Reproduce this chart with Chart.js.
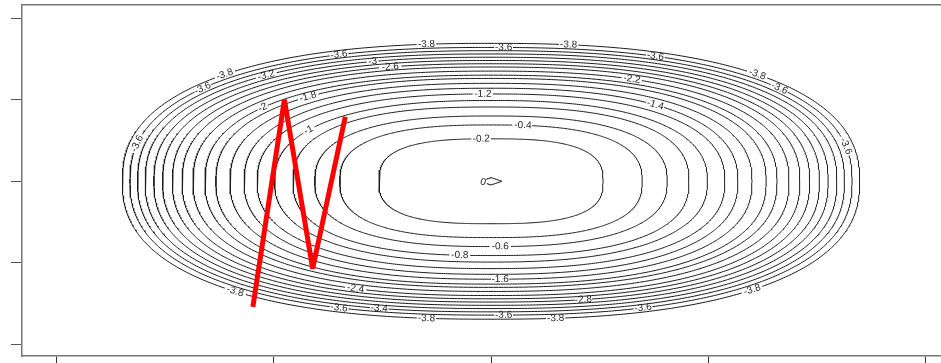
<!DOCTYPE html>
<html lang="en">
  <head>
    <meta charset="UTF-8" />
    <script src="https://cdn.jsdelivr.net/npm/chart.js"></script>
    <title>Contour</title>
    <style>
      html, body { margin: 0; padding: 0; background: #fff; }
    </style>
  </head>
  <body>
    <canvas id="myChart" width="941" height="363"></canvas>
    <script>
      // contour levels and half-axes of each ring (data units)
      var levels     = [0, -0.2, -0.4, -0.6, -0.8, -1, -1.2, -1.4, -1.6, -1.8, -2, -2.2, -2.4, -2.6, -2.8, -3, -3.2, -3.4, -3.6, -3.8];
      var halfWidth  = [0.10, 1.03, 1.39, 1.62, 1.82, 1.99, 2.15, 2.27, 2.40, 2.53, 2.63, 2.74, 2.84, 2.93, 3.02, 3.10, 3.18, 3.25, 3.32, 3.39];
      var halfHeight = [0.045, 0.52, 0.69, 0.80, 0.91, 0.99, 1.07, 1.14, 1.20, 1.26, 1.30, 1.35, 1.40, 1.44, 1.48, 1.52, 1.56, 1.60, 1.64, 1.69];
      var roundness  = [1, 2.8, 2.6, 2.5, 2.5, 2.4, 2.4, 2.4, 2.4, 2.4, 2.4, 2.4, 2.4, 2.4, 2.4, 2.4, 2.4, 2.4, 2.4, 2.4];

      // inline labels: which level, and direction (degrees) from the centre
      var labelLevel = [-3.8, -3.6, -3.8, -3.6, -3, -2.6, -1.2, -0.4, -0.2, -2.2, -3.6, -1.4, -3.8, -3.6, -3.6,
                        -3.8, -3.6, -3.2, -2, -1.8, -1, -3.6,
                        -3.8, -3.6, -3.4, -2.4, -3.8, -3.6, -3.8, -2.8, -1.6, -0.8, -0.6, -3.6, -3.8, 0];
      var labelDir   = [100, 88, 78, 114, 110, 108, 92, 78, 95, 63, 64, 51, 47, 41, 15,
                        133, 139, 128, 139, 129, 143, 164,
                        229, 246, 252, 245, 260, 272, 280, 286, 272, 261, 273, 294, 312, 200];

      // red path
      var pathX = [-2.19, -1.90, -1.64, -1.34];
      var pathY = [-1.54, 1.00, -1.07, 0.79];

      var xTicks = [-4, -2, 0, 2, 4];
      var yTicks = [-2, -1, 0, 1, 2];

      var LABEL_FONT = '10px "Liberation Sans", Arial, sans-serif';

      function contourPoint(i, deg) {
        var t = deg * Math.PI / 180;
        var c = Math.cos(t), s = Math.sin(t), p = roundness[i];
        var r = Math.pow(Math.pow(Math.abs(c), p) + Math.pow(Math.abs(s), p), -1 / p);
        return { x: halfWidth[i] * r * c, y: halfHeight[i] * r * s };
      }

      var measureCtx = document.createElement("canvas").getContext("2d");
      measureCtx.font = LABEL_FONT;
      var labels = labelLevel.map(function (lv, k) {
        var txt = String(lv);
        return { idx: levels.indexOf(lv), dir: labelDir[k], text: txt, w: measureCtx.measureText(txt).width };
      });

      function labelPixel(chart, lb) {
        var sx = chart.scales.x, sy = chart.scales.y;
        var p = contourPoint(lb.idx, lb.dir);
        var a = contourPoint(lb.idx, lb.dir - 1);
        var b = contourPoint(lb.idx, lb.dir + 1);
        var ang = Math.atan2(sy.getPixelForValue(b.y) - sy.getPixelForValue(a.y),
                             sx.getPixelForValue(b.x) - sx.getPixelForValue(a.x));
        if (ang > Math.PI / 2) ang -= Math.PI;
        if (ang < -Math.PI / 2) ang += Math.PI;
        return { x: sx.getPixelForValue(p.x), y: sy.getPixelForValue(p.y), angle: ang };
      }

      function gapColor(ctx) {
        var ds = ctx.chart.data.datasets[ctx.datasetIndex];
        var mx = (ctx.p0.x + ctx.p1.x) / 2, my = (ctx.p0.y + ctx.p1.y) / 2;
        for (var k = 0; k < labels.length; k++) {
          if (labels[k].idx !== ds.levelIndex) continue;
          var lp = labelPixel(ctx.chart, labels[k]);
          var dx = mx - lp.x, dy = my - lp.y;
          if (Math.sqrt(dx * dx + dy * dy) < labels[k].w / 2 + 1.5) return "rgba(0,0,0,0)";
        }
        return undefined;
      }

      var datasets = [];
      datasets.push({
        data: pathX.map(function (v, i) { return { x: v, y: pathY[i] }; }),
        showLine: true,
        borderColor: "#ff0000",
        borderWidth: 5,
        borderJoinStyle: "bevel",
        borderCapStyle: "butt",
        pointRadius: 0,
        order: 0
      });
      for (var i = 0; i < levels.length; i++) {
        var pts = [];
        for (var d = 0; d <= 720; d++) pts.push(contourPoint(i, d / 2));
        datasets.push({
          data: pts,
          levelIndex: i,
          showLine: true,
          borderColor: "#1a1a1a",
          borderWidth: 1,
          pointRadius: 0,
          order: 1,
          segment: { borderColor: gapColor }
        });
      }

      var labelPlugin = {
        id: "contourLabels",
        afterDatasetsDraw: function (chart) {
          var c = chart.ctx, area = chart.chartArea;
          c.save();
          c.beginPath();
          c.rect(area.left, area.top, area.right - area.left, area.bottom - area.top);
          c.clip();
          c.font = LABEL_FONT;
          c.fillStyle = "#262626";
          c.textAlign = "center";
          c.textBaseline = "middle";
          labels.forEach(function (lb) {
            var lp = labelPixel(chart, lb);
            c.save();
            c.translate(lp.x, lp.y);
            c.rotate(lp.angle);
            c.fillText(lb.text, 0, 0);
            c.restore();
          });
          c.restore();
        }
      };

      function fixedTicks(list) {
        return function (scale) {
          scale.ticks = list.map(function (v) { return { value: v }; });
        };
      }

      var ctx = document.getElementById("myChart");
      var myChart = new Chart(ctx, {
        type: "scatter",
        data: { datasets: datasets },
        plugins: [labelPlugin],
        options: {
          responsive: false,
          animation: false,
          layout: { padding: { left: 11, top: 5, right: 0, bottom: 0 } },
          plugins: { legend: { display: false }, tooltip: { enabled: false } },
          scales: {
            x: {
              type: "linear",
              position: "bottom",
              min: -4.313,
              max: 4.138,
              afterBuildTicks: fixedTicks(xTicks),
              ticks: { display: false },
              grid: { drawOnChartArea: false, tickLength: 7, tickColor: "#333" },
              border: { color: "#777", width: 1.5 }
            },
            x2: {
              type: "linear",
              position: "top",
              min: -4.313,
              max: 4.138,
              ticks: { display: false },
              grid: { display: false, drawTicks: false },
              border: { color: "#777", width: 1.5 }
            },
            y: {
              type: "linear",
              position: "left",
              min: -2.141,
              max: 2.16,
              afterBuildTicks: fixedTicks(yTicks),
              ticks: { display: false },
              grid: { drawOnChartArea: false, tickLength: 11, tickColor: "#555" },
              border: { color: "#777", width: 1.5 }
            }
          }
        }
      });
    </script>
  </body>
</html>
